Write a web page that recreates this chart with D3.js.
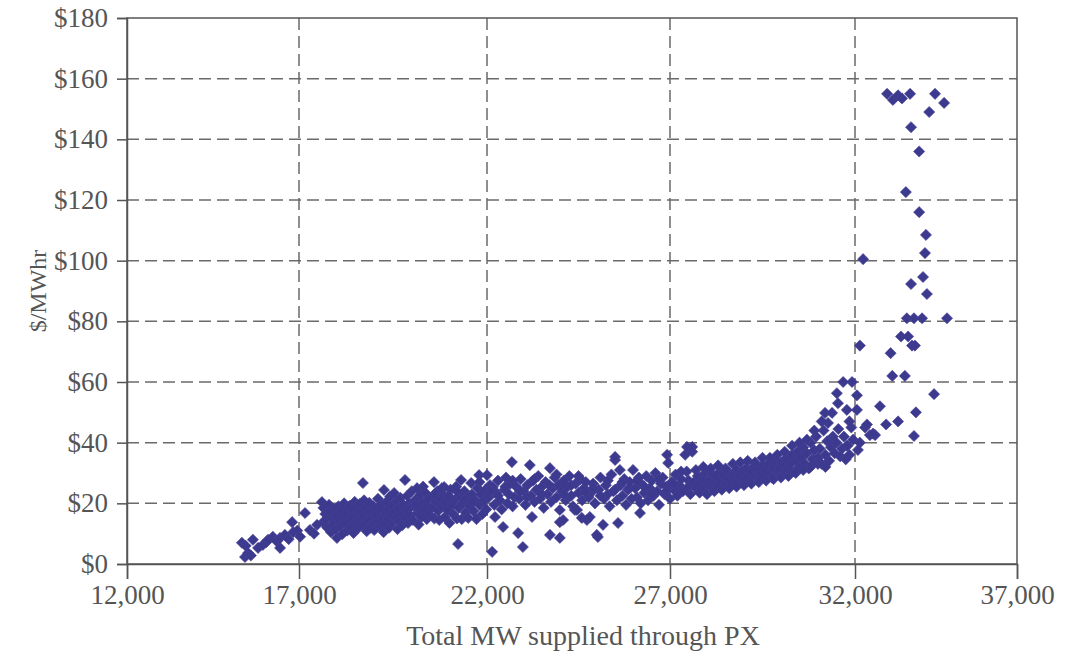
<!DOCTYPE html>
<html>
<head>
<meta charset="utf-8">
<script src="https://cdn.jsdelivr.net/npm/d3@7"></script>
<style>
  body { margin: 0; background: #fff; }
  svg { display: block; }
  .tick text { font-family: "Liberation Serif", "DejaVu Serif", serif; fill: #555; }
</style>
</head>
<body>
<svg id="chart" width="1067" height="654"></svg>
<script>
// tick values
var xTicks = [12000, 17000, 22000, 27000, 32000, 37000];
var yTicks = [0, 20, 40, 60, 80, 100, 120, 140, 160, 180];

// [MW supplied, $/MWhr], grouped by load range
var tail = [[15430,2.3],[15520,3.6],[15600,2.8],[15340,7],[15450,6],[15660,8],[15810,5.3],[15950,6.3],
  [16050,7.2],[16100,8],[16240,9],[16350,7.5],[16450,8.6],[16450,5.3],[16590,9.6],[16700,8.2],
  [16800,13.8],[16830,10.5],[16950,11],[17030,9],[17160,16.8],[17290,11.2],[17400,10],[17480,12.9],
  [17640,13.8],[17610,20.4],[17830,16],[18010,8.6]];

var band18 = [[17650,18.5],[17700,16.5],[17720,14.5],[17750,12],[17800,19.5],[17820,17.2],[17850,10.5],
  [17880,15],[17900,13],[17950,18],[17980,11.5],[18000,16],[18050,19],[18080,14],[18100,12.5],
  [18120,17.5],[18150,9.8],[18180,15.5],[18200,20],[18230,13.5],[18250,18.2],[18280,11],[18300,16.8],
  [18330,14.8],[18350,19.2],[18380,12.2],[18400,17.8],[18420,15.2],[18450,10.2],[18480,20.5],
  [18500,13.8],[18520,18.8],[18550,16.2],[18570,11.8],[18600,14.2],[18620,19.8],[18650,17],
  [18680,12.8],[18700,15.8],[18700,26.7],[18730,21],[18750,13.2],[18780,18.5],[18800,10.8],
  [18820,16.5],[18850,14.5],[18870,20.2],[18900,12],[18920,17.2],[18950,15],[18980,19],[19000,11.2]];

var band19 = [[19020,13.5],[19050,16],[19080,18.2],[19100,21.5],[19120,14.2],[19150,12.5],[19180,17.5],
  [19200,19.8],[19230,15.2],[19250,10.5],[19260,24.4],[19280,13],[19300,16.8],[19330,20.5],[19350,18],
  [19380,14.8],[19400,12],[19420,22.2],[19450,16.2],[19480,19.2],[19500,13.8],[19530,23.4],[19550,17.5],
  [19580,15],[19600,20.8],[19620,11.5],[19650,18.5],[19680,14],[19700,21.8],[19720,16.5],[19750,12.8],
  [19780,19.5],[19800,15.5],[19820,27.7],[19850,17.8],[19880,22.5],[19900,13.5],[19930,20],[19950,16],
  [19980,18.8],[20000,24],[20030,14.5],[20060,19.2],[20100,21.2],[20140,25],[20150,16.8],[20180,13],
  [20200,18],[20230,22.8],[20260,15.5],[20300,20.2],[20330,17.2],[20360,23.5],[20400,14.8],[20420,19],
  [20450,21.5],[20480,16.2],[20100,19.5],[20300,25.5]];

var band21 = [[20520,18.5],[20550,22],[20590,27],[20600,15],[20640,20.5],[20680,24],[20700,17.5],
  [20730,14.5],[20760,21.5],[20800,19],[20830,23],[20860,25.4],[20880,15.5],[20900,20],[20940,17.8],
  [20980,22.5],[21000,13.5],[21030,24.5],[21060,19.5],[21100,16.5],[21140,21],[21180,25.5],[21200,15],
  [21230,6.6],[21250,18.5],[21280,22.5],[21310,27.7],[21330,14.8],[21360,20],[21400,24],[21430,17],
  [21460,21.8],[21500,15.2],[21540,19.2],[21580,26.7],[21600,23],[21640,17.5],[21680,21],[21720,14.8],
  [21750,25],[21790,29.3],[21800,19.5],[21840,22.8],[21880,16.5],[21920,20.8],[21960,24.5],[22000,29.3],
  [21980,18],[20600,23],[20800,25],[21000,22],[21200,24],[21400,21],[21600,20.5],[21800,27]];

var band23 = [[22050,22],[22080,26],[22140,4],[22160,25.4],[22200,19.5],[22220,15.5],[22260,23.5],
  [22300,27.5],[22350,21],[22400,18],[22440,12.2],[22480,24.5],[22520,28.5],[22560,20],[22600,23],
  [22640,26.5],[22680,33.6],[22700,19],[22750,22],[22800,25.5],[22850,10.2],[22880,21.5],[22920,28],
  [22980,5.6],[23000,24],[23050,19.5],[23100,26],[23170,32.6],[23200,22.5],[23230,15.5],[23250,27.5],
  [23300,20.5],[23350,24.5],[23400,29],[23450,21.5],[23500,25.5],[23550,18.5],[23600,27],[23650,23],
  [23720,31.6],[23720,9.6],[23750,20.5],[23800,25],[23850,28.5],[23900,22],[23950,26],[23990,8.6],
  [23990,17.8],[23990,13.8],[22100,24],[22300,22.5],[22500,25.5],[22700,27.5],[22900,24],[23100,22],
  [23300,28],[23500,23],[23700,26],[23900,29.5]];

var band25 = [[24050,24],[24080,14.5],[24100,27.5],[24150,21],[24200,25.5],[24250,29],[24300,22.5],
  [24350,19],[24400,17.8],[24420,26.5],[24460,17.8],[24500,23.5],[24550,28],[24590,15.2],[24600,21],
  [24650,25],[24700,27],[24730,14.5],[24780,22],[24810,15.5],[24860,23.7],[24900,26.5],[24950,20],
  [25000,9.6],[25030,8.9],[25050,24.5],[25100,28.5],[25170,12.9],[25200,21.5],[25250,26],[25300,23],
  [25350,19],[25400,29.5],[25450,24],[25500,34.3],[25500,35.3],[25550,21],[25580,13.5],[25630,31],
  [25650,26],[25700,22.5],[25750,28],[25800,19.5],[25850,24.5],[25900,27],[25950,21.5],[25990,31],
  [24100,23],[24300,26],[24500,29],[24700,23.5],[24900,25],[25100,22.5],[25300,27.5],[25500,24.5],
  [25700,27],[25900,25]];

var band27 = [[26050,25],[26100,22],[26150,28.5],[26180,16.8],[26200,20],[26250,26],[26300,23.5],
  [26350,29],[26400,21],[26450,25],[26500,27.5],[26550,22.5],[26600,30],[26650,24],[26700,19.5],
  [26750,26.5],[26800,28.5],[26850,23],[26900,25.5],[26920,36],[26950,33.3],[27000,21.5],[27050,27],
  [27100,24.5],[27150,29.5],[27200,22.5],[27250,26],[27300,28],[27350,24],[27410,36],[27460,38.6],
  [27600,38.6],[27600,37],[27450,30.5],[27500,25.5],[27550,23],[26100,27.5],[26300,25.5],[26500,23],
  [26700,28],[26900,24],[27100,26.5],[27300,30.5],[27500,27.5]];

var band29 = [[27650,27],[27700,25],[27750,29],[27800,26.5],[27850,24.5],[27900,28],[27950,30],[28000,26],
  [28050,27.5],[28100,25.5],[28150,29.5],[28200,27],[28250,28.5],[28300,26],[28350,30.5],[28400,27.5],
  [28450,29],[28500,26.5],[28550,28],[28600,30],[28650,27],[28700,29.5],[28750,28],[28800,31],
  [28850,27.5],[28900,29],[28950,30.5],[29000,28],[29050,31.5],[29100,29],[29150,27.5],[29200,30.5],
  [29250,32],[29300,29],[29350,31],[29400,28.5],[29450,30],[29500,32.5],[27700,31],[27800,23.5],
  [27900,32],[28000,23],[28100,31.5],[28200,24],[28300,32.5],[28400,24.5],[28500,31.5],[28600,25],
  [28700,33],[28800,25.5],[28900,33.5],[29000,26],[29100,34],[29200,26.5],[29300,33.5],[29400,27],
  [29500,35]];

var band30 = [[29550,29.5],[29600,31],[29650,33],[29700,30],[29750,28.5],[29800,32],[29850,34],[29900,30.5],
  [29950,31.5],[30000,33.5],[30050,29.5],[30100,32.5],[30150,35],[30200,31],[30250,33],[30300,36],
  [30350,30.5],[30400,34],[30450,37],[30500,32],[30550,35],[30600,38.5],[30650,33],[30700,36.5],
  [30750,31.5],[30800,40],[30850,34.5],[30900,37.5],[30950,42],[31000,35],[29600,27.5],[29700,35],
  [29800,28],[29900,36],[30000,28.5],[30100,37],[30200,29],[30300,39],[30400,30],[30500,40],[30600,31],
  [30700,41],[30800,32],[30900,44],[31000,33]];

var band31 = [[31050,38],[31100,33],[31150,44],[31190,49.8],[31200,36],[31250,40.5],[31270,46.5],[31300,34],
  [31350,38.5],[31380,49.8],[31400,42],[31450,36.5],[31500,40],[31510,56.3],[31540,53],[31550,44.5],
  [31600,35.5],[31650,38],[31680,60],[31700,42],[31750,34.5],[31780,50.8],[31800,39],[31850,36],
  [31920,60],[31900,45],[31950,41],[31100,47],[31200,32]];

var peak = [[32060,50.8],[32060,55.6],[32150,72],[32250,100.5],[31850,47],[32310,45],[32460,42.5],
  [32620,42.5],[32150,40],[31780,39],[32090,37.6],[32370,46],[32560,43],[32770,52],[32960,46],
  [33100,69.5],[33150,62],[33330,47],[33420,75],[33540,62],[33640,75],[33760,72],[33850,72],
  [33820,42.2],[33880,50],[34440,56],[33600,81],[33820,81],[34070,81],[34840,81],[34100,94.6],
  [33730,92.3],[34220,89],[34160,102.5],[34190,108.5],[33980,116],[33570,122.6],[33980,136],
  [33730,144],[34290,149],[34750,152],[34470,155],[32990,155],[33170,153],[33330,154.5],
  [33450,153.5],[33700,155]];

var points = [].concat(tail, band18, band19, band21, band23, band25, band27, band29, band30, band31, peak);

var svg = d3.select("#chart");
var plotLeft = 127, plotRight = 1017, plotTop = 18, plotBottom = 564;

// the scanned axis is not evenly spaced, so the x scale is piecewise
var x = d3.scaleLinear()
  .domain(xTicks)
  .range([plotLeft, 299, 487, 670, 855, plotRight]);
var y = d3.scaleLinear().domain([0, 180]).range([plotBottom, plotTop]);

var gridColor = "#6a6a6a";

// dashed grid
svg.append("g").selectAll("line")
  .data(yTicks.slice(1, -1))
  .enter().append("line")
  .attr("x1", plotLeft).attr("x2", plotRight)
  .attr("y1", function(d) { return y(d); })
  .attr("y2", function(d) { return y(d); })
  .attr("stroke", gridColor).attr("stroke-width", 1.5)
  .attr("stroke-dasharray", "12,6");

svg.append("g").selectAll("line")
  .data(xTicks.slice(1, -1))
  .enter().append("line")
  .attr("y1", plotTop).attr("y2", plotBottom)
  .attr("x1", function(d) { return x(d); })
  .attr("x2", function(d) { return x(d); })
  .attr("stroke", gridColor).attr("stroke-width", 1.5)
  .attr("stroke-dasharray", "12,6");

// frame
svg.append("rect")
  .attr("x", plotLeft).attr("y", plotTop)
  .attr("width", plotRight - plotLeft).attr("height", plotBottom - plotTop)
  .attr("fill", "none").attr("stroke", "#555").attr("stroke-width", 1.5);

// axes
var xAxis = svg.append("g")
  .attr("transform", "translate(0," + plotBottom + ")")
  .call(d3.axisBottom(x).tickValues(xTicks).tickSize(15).tickPadding(6).tickFormat(d3.format(",")));
var yAxis = svg.append("g")
  .attr("transform", "translate(" + plotLeft + ",0)")
  .call(d3.axisLeft(y).tickValues(yTicks).tickSize(10).tickPadding(9).tickFormat(function(d) { return "$" + d; }));

[xAxis, yAxis].forEach(function(a) {
  a.select(".domain").attr("stroke", "#555").attr("stroke-width", 1.5);
  a.selectAll(".tick line").attr("stroke", "#555").attr("stroke-width", 1.5);
  a.selectAll(".tick text").style("font-size", "27px");
});

// markers
var diamond = d3.symbol().type(d3.symbolSquare).size(62);
svg.append("g").selectAll("path")
  .data(points)
  .enter().append("path")
  .attr("d", diamond)
  .attr("transform", function(d) { return "translate(" + x(d[0]) + "," + y(d[1]) + ")rotate(45)"; })
  .attr("fill", "#3b3a8e")
  .attr("stroke", "#4b3f96")
  .attr("stroke-width", 0.6);

// axis titles
svg.append("text")
  .attr("x", 583).attr("y", 645)
  .attr("text-anchor", "middle")
  .style("font-family", "Liberation Serif, serif")
  .style("font-size", "28px")
  .style("fill", "#555")
  .text("Total MW supplied through PX");

svg.append("text")
  .attr("transform", "translate(46,291)rotate(-90)")
  .attr("text-anchor", "middle")
  .style("font-family", "Liberation Serif, serif")
  .style("font-size", "24px")
  .style("fill", "#555")
  .text("$/MWhr");
</script>
</body>
</html>
